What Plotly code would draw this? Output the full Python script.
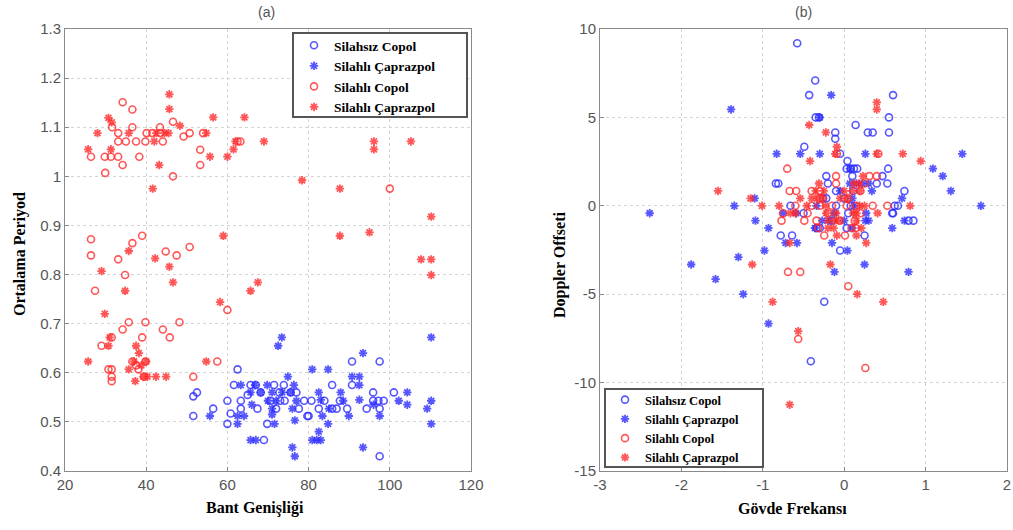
import plotly.graph_objects as go

# ---------------- Panel (a): Bant Genişliği vs Ortalama Periyod ----------------
a_blue_circle_x = [51.6, 52.5, 51.6, 56.5, 60, 60, 60.8, 62.5, 61.6, 63.3, 63.3, 65.7, 67, 65, 67.4, 69, 69.8, 70.6,
                   71.5, 72.8, 73.9, 74.1, 75.6, 77, 77.6, 78.9, 79.7, 80.7, 82.5, 83.9, 85.8, 85.8, 86.9, 87.7, 89.5,
                   90.7, 90.7, 94.3, 95.9, 95.9, 97.5, 97.5, 97.2, 98.5, 101, 97.5, 68.2, 73, 80, 72]
a_blue_circle_y = [0.552, 0.56, 0.512, 0.527, 0.543, 0.496, 0.517, 0.607, 0.575, 0.543, 0.527, 0.575, 0.575, 0.555,
                   0.527, 0.463, 0.496, 0.543, 0.575, 0.56, 0.575, 0.543, 0.56, 0.56, 0.527, 0.543, 0.512, 0.543,
                   0.527, 0.543, 0.575, 0.527, 0.527, 0.543, 0.527, 0.623, 0.575, 0.527, 0.56, 0.543, 0.623, 0.527,
                   0.543, 0.543, 0.56, 0.43, 0.56, 0.543, 0.512, 0.527]

a_blue_star_x = [73.4, 72.5, 93.4, 110.2, 80.9, 84.8, 74.9, 90.7, 92.5, 63.3, 69.8, 76.4, 92.5, 65.7, 68.2, 71, 75.5,
                 82.5, 87.9, 104.3, 66, 70, 72, 77, 83, 92.5, 102.2, 110.2, 71, 76, 85, 96, 104.3, 109.2, 55.7, 62.5,
                 64.1, 71, 83.4, 89.9, 97.5, 62.5, 71.6, 84.8, 110.2, 76.6, 82.5, 65.7, 67, 80.9, 82, 83, 76, 76.6,
                 93.4, 66.8, 73.5, 88.5]
a_blue_star_y = [0.672, 0.655, 0.64, 0.672, 0.607, 0.607, 0.592, 0.592, 0.592, 0.575, 0.575, 0.575, 0.575, 0.56,
                 0.56, 0.56, 0.56, 0.56, 0.56, 0.56, 0.535, 0.543, 0.543, 0.543, 0.545, 0.545, 0.543, 0.543, 0.527,
                 0.527, 0.527, 0.535, 0.535, 0.527, 0.512, 0.512, 0.512, 0.515, 0.512, 0.512, 0.512, 0.496, 0.496,
                 0.496, 0.496, 0.503, 0.48, 0.463, 0.463, 0.463, 0.463, 0.463, 0.448, 0.43, 0.448, 0.575, 0.56, 0.543]

a_red_circle_x = [34.2, 36.6, 31.6, 36.6, 43.4, 46.6, 33.1, 40.1, 41.5, 43.5, 49.2, 50.7, 54, 33.1, 35, 37.5, 39.8,
                  44.1, 62.5, 63.2, 26.4, 29.8, 31.3, 33.1, 38.3, 53.3, 34.2, 53.3, 29.9, 46.6, 100, 26.4, 26.4, 36.6,
                  39, 33.1, 34.8, 27.4, 44.8, 47.5, 50.7, 60, 35.7, 39.8, 48.2, 34.2, 39, 44.1, 45.8, 29, 31.5, 36.6,
                  39.8, 38.1, 30.7, 31.5, 31.5, 31.5, 39.5, 57.5, 51.6, 37.5]
a_red_circle_y = [1.151, 1.136, 1.10, 1.10, 1.10, 1.111, 1.088, 1.088, 1.088, 1.088, 1.081, 1.088, 1.088, 1.071,
                  1.071, 1.071, 1.071, 1.071, 1.071, 1.071, 1.04, 1.04, 1.04, 1.04, 1.04, 1.054, 1.023, 1.023, 1.007,
                  1.0, 0.975, 0.872, 0.839, 0.864, 0.879, 0.831, 0.799, 0.767, 0.847, 0.839, 0.856, 0.728, 0.703,
                  0.703, 0.703, 0.688, 0.672, 0.688, 0.672, 0.655, 0.672, 0.623, 0.623, 0.607, 0.607, 0.607, 0.592,
                  0.583, 0.592, 0.623, 0.592, 0.615]

a_red_star_x = [45.7, 45.7, 30.7, 31.5, 56.5, 64.2, 48.3, 28, 35.7, 42.5, 44.5, 45.5, 54.8, 42, 62, 69, 25.7, 31.3,
                61.5, 55.7, 60, 43.2, 41.6, 78.4, 96.1, 96.1, 105.2, 87.7, 110.2, 87.7, 95, 107.7, 110.2, 110.2, 59,
                35.7, 42.2, 45.7, 46.6, 29, 34.8, 65.7, 67.5, 58.2, 29.8, 30.7, 37.5, 38.2, 25.7, 38.8, 40, 35.7,
                37.3, 39.3, 40.3, 42.4, 44.9, 54.8, 31, 37]
a_red_star_y = [1.167, 1.137, 1.119, 1.11, 1.12, 1.12, 1.103, 1.088, 1.088, 1.088, 1.088, 1.088, 1.088, 1.071, 1.071,
                1.071, 1.055, 1.055, 1.055, 1.04, 1.04, 1.023, 0.975, 0.992, 1.071, 1.055, 1.071, 0.975, 0.918,
                0.879, 0.886, 0.831, 0.831, 0.799, 0.879, 0.848, 0.833, 0.816, 0.784, 0.807, 0.767, 0.767, 0.784,
                0.744, 0.72, 0.655, 0.655, 0.64, 0.623, 0.615, 0.623, 0.607, 0.583, 0.592, 0.592, 0.592, 0.592,
                0.623, 0.672, 0.623]

# ---------------- Panel (b): Gövde Frekansı vs Doppler Offseti ----------------
b_blue_circle_x = [-0.577, -0.356, -0.43, 0.60, -0.31, -0.35, 0.55, 0.55, 0.29, 0.35, 0.14, -0.11, -0.11, -0.49,
                   -0.05, 0.04, 0.03, 0.08, 0.12, 0.16, -0.22, 0.1, 0.47, 0.54, 0.40, 0.53, -0.84, -0.81, -0.2, 0.74,
                   -0.1, 0.11, -0.26, -0.66, -0.1, 0.62, 0.66, 0.59, -0.5, 0.6, 0.79, 0.85, -0.78, -0.64, 0.25, 0.03,
                   -0.05, -0.245, -0.41, -0.34, -0.3, 0.08, -0.22, 0.05, 0.0, -0.15]
b_blue_circle_y = [9.19, 7.09, 6.26, 6.26, 5.0, 5.0, 5.0, 4.15, 4.15, 4.15, 4.57, 4.15, 3.79, 3.34, 2.94, 2.53, 2.1,
                   2.1, 2.1, 2.1, 1.68, 1.68, 1.68, 2.1, 1.26, 1.26, 1.26, 1.26, 1.26, 0.84, 0.84, 0.84, 0.42, 0.0,
                   0.0, 0.0, 0.0, -0.42, -0.42, -0.42, -0.84, -0.84, -1.68, -1.68, -1.68, -1.26, -2.53, -5.43, -8.79,
                   -1.26, -1.26, 0.0, 0.42, -0.42, 0.42, -0.84]

b_blue_star_x = [-1.39, -0.16, -0.3, -0.83, -0.54, -0.30, 0.26, 1.45, 1.09, 1.21, 1.31, 1.68, 0.34, 0.71, -1.35,
                 -2.39, -1.10, -1.09, -0.93, -0.72, -0.58, -0.98, -1.30, -1.88, -1.58, -1.24, -0.93, -0.15, 0.04,
                 0.25, -0.12, 0.79, 0.59, 0.74, 0.26, 0.30, -0.18, 0.10, -0.36, -0.59, -0.75, 0.07, 0.15, 0.22, 0.3,
                 0.07, 0.1, 0.27, -0.34, -0.12, -0.27, 0.0, 0.12, -0.05]
b_blue_star_y = [5.45, 6.26, 5.0, 2.94, 2.94, 2.94, 2.94, 2.94, 2.1, 1.68, 0.84, 0.0, 0.84, 0.42, 0.0, -0.42, 0.42,
                 -0.84, -1.26, -2.1, -2.1, -2.53, -2.9, -3.32, -4.15, -5.0, -6.66, -2.1, -2.53, -3.32, -3.74, -3.74,
                 -1.26, -0.84, -0.84, -0.84, -0.84, -1.26, -1.26, -0.42, -0.42, 1.26, 1.26, 1.26, 1.26, 2.1, 0.42,
                 -0.42, 0.0, -0.42, -0.84, -0.84, 0.0, 0.84]

b_red_circle_x = [-0.70, -0.67, -0.59, -0.77, -0.49, -0.69, -0.54, 0.05, -0.565, 0.26, 0.53, -0.245, 0.01, 0.14,
                  -0.05, -0.1, -0.1, 0.31, 0.40, -0.75, -0.40, -0.30, 0.03, 0.15, -0.34, 0.13, -0.32, 0.09, -0.3,
                  -0.4, -0.3, -0.09, -0.15, 0.2, -0.2, 0.05, 0.2, 0.35, 0.25, -0.6, -0.45, 0.42]
b_red_circle_y = [2.1, 0.84, 0.84, -0.84, -0.84, -3.74, -3.74, -4.55, -7.53, -9.17, 0.0, -1.68, -1.68, -1.26, -0.84,
                  1.68, 1.26, 1.68, 1.68, -0.42, 0.0, 0.0, 0.0, 0.0, -0.84, -0.84, -1.26, -1.26, 0.42, 0.84, 0.84,
                  2.94, 0.0, -0.42, -0.42, 0.42, 0.84, 0.0, 1.26, 0.0, -0.42, 2.94]

b_red_star_x = [0.40, 0.40, -0.43, -0.225, -0.09, -0.11, 0.72, 0.94, 0.40, -0.42, -1.55, -1.15, -1.01, -0.8, 0.81,
                0.41, 0.27, -0.17, -1.13, 0.16, -0.88, 0.48, -0.565, -0.67, -0.09, 0.15, -0.67, -0.31, 0.23, -0.35,
                -0.25, 0.0, 0.1, 0.19, -0.54, -0.4, -0.33, -0.26, -0.05, 0.03, -0.46, -0.23, 0.19, 0.25, -0.66,
                -0.6, -0.22, 0.11, 0.15, -0.2, -0.12, -0.07, 0.15, -0.2, -0.13, 0.21, 0.12, 0.18, -0.1]
b_red_star_y = [5.85, 5.45, 4.57, 4.15, 3.34, 2.94, 2.94, 2.53, 2.94, 2.53, 0.84, 0.42, 0.0, 0.0, 0.0, -0.42, -2.1,
                -3.32, -3.32, -5.0, -5.43, -5.43, -7.09, -11.25, -1.68, -1.68, -2.1, 1.26, 1.68, 0.84, 0.84, 0.84,
                0.84, 0.84, 0.42, 0.42, 0.42, 0.42, 0.42, 0.42, 0.0, 0.0, 0.0, 0.0, -0.42, -0.42, -0.42, -0.42,
                -0.42, -0.84, -0.84, -0.84, -0.84, -1.26, -1.26, -1.26, 1.26, 1.26, -0.42]

series_names = ["Silahsız Copol", "Silahlı Çaprazpol", "Silahlı Copol", "Silahlı Çaprazpol"]
panel_titles = ["(a)", "(b)"]
a_xticks = [20, 40, 60, 80, 100, 120]
a_yticks = [0.4, 0.5, 0.6, 0.7, 0.8, 0.9, 1.0, 1.1, 1.2, 1.3]
a_yticktext = ["0.4", "0.5", "0.6", "0.7", "0.8", "0.9", "1", "1.1", "1.2", "1.3"]
b_xticks = [-3, -2, -1, 0, 1, 2]
b_xticktext = ["-3", "-2", "-1", "0", "1", "2"]
b_yticks = [-15, -10, -5, 0, 5, 10]
b_yticktext = ["-15", "-10", "-5", "0", "5", "10"]

BLUE = "rgba(40,40,255,0.78)"
RED = "rgba(255,40,40,0.78)"


def circle(color):
    return dict(symbol="circle-open", size=7, color=color, line=dict(width=1.6, color=color))


def star(color):
    return dict(symbol="asterisk-open", size=7, color=color, line=dict(width=1.8, color=color))


fig = go.Figure()
panels = [
    ("x", "y", "legend", [(a_blue_circle_x, a_blue_circle_y, circle(BLUE)),
                          (a_blue_star_x, a_blue_star_y, star(BLUE)),
                          (a_red_circle_x, a_red_circle_y, circle(RED)),
                          (a_red_star_x, a_red_star_y, star(RED))]),
    ("x2", "y2", "legend2", [(b_blue_circle_x, b_blue_circle_y, circle(BLUE)),
                             (b_blue_star_x, b_blue_star_y, star(BLUE)),
                             (b_red_circle_x, b_red_circle_y, circle(RED)),
                             (b_red_star_x, b_red_star_y, star(RED))]),
]
for xa, ya, leg, traces in panels:
    for name, (xs, ys, mk) in zip(series_names, traces):
        fig.add_trace(go.Scatter(x=xs, y=ys, mode="markers", name=name, marker=mk,
                                 xaxis=xa, yaxis=ya, legend=leg))

W, H = 1013, 530


def px(v):
    return v / W


def py(v):
    return 1 - v / H


axis_common = dict(showgrid=True, gridcolor="#d4d4d4", griddash="dot", gridwidth=1,
                   showline=True, linecolor="#8a8a8a", linewidth=1, mirror=True,
                   ticks="inside", ticklen=4, tickcolor="#8a8a8a", automargin=False,
                   ticklabeloverflow="allow",
                   tickfont=dict(family="Liberation Sans, Arial", size=15, color="#555555"),
                   zeroline=False)

legend_font_a = dict(family="Liberation Serif, Times New Roman", size=13.5, color="black", weight="bold")
legend_font_b = dict(family="Liberation Serif, Times New Roman", size=12.5, color="black", weight="bold")

fig.update_layout(
    width=W, height=H,
    margin=dict(l=0, r=0, t=0, b=0, autoexpand=False),
    paper_bgcolor="white", plot_bgcolor="white",
    xaxis=dict(domain=[px(65), px(471)], range=[20, 120], tickvals=a_xticks, anchor="y", **axis_common),
    yaxis=dict(domain=[py(471), py(29)], range=[0.4, 1.3], tickvals=a_yticks,
               ticktext=a_yticktext, anchor="x", **axis_common),
    xaxis2=dict(domain=[px(600), px(1007)], range=[-3, 2], tickvals=b_xticks, ticktext=b_xticktext,
                anchor="y2", **axis_common),
    yaxis2=dict(domain=[py(471), py(29)], range=[-15, 10], tickvals=b_yticks,
                ticktext=b_yticktext, anchor="x2", **axis_common),
    legend=dict(x=px(294), y=py(30), xanchor="left", yanchor="top",
                bgcolor="rgba(0,0,0,0)", borderwidth=0,
                font=legend_font_a, tracegroupgap=0, itemwidth=30),
    legend2=dict(x=px(605), y=py(385), xanchor="left", yanchor="top",
                 bgcolor="rgba(0,0,0,0)", borderwidth=0,
                 font=legend_font_b, tracegroupgap=0, itemwidth=30),
    showlegend=True,
)

# legend frames
for (x0, y0, x1, y1) in [(293, 33, 467, 117), (605, 389, 763, 467)]:
    fig.add_shape(type="rect", xref="paper", yref="paper", x0=px(x0), x1=px(x1), y0=py(y1), y1=py(y0),
                  fillcolor="white", line=dict(color="#555555", width=2), layer="above")

title_font = dict(family="Liberation Sans, Arial", size=14, color="#555555")
label_font = dict(family="Liberation Serif, Times New Roman", size=16, color="black", weight="bold")
annotations = [
    dict(text=panel_titles[0], x=px(266), y=py(12), font=title_font),
    dict(text=panel_titles[1], x=px(803), y=py(12), font=title_font),
    dict(text="Bant Genişliği", x=px(255), y=py(508), font=label_font),
    dict(text="Gövde Frekansı", x=px(792), y=py(508), font=label_font),
    dict(text="Ortalama Periyod", x=px(20), y=py(254), textangle=-90, font=label_font),
    dict(text="Doppler Offseti", x=px(560), y=py(265), textangle=-90, font=label_font),
]
for a in annotations:
    fig.add_annotation(xref="paper", yref="paper", showarrow=False, xanchor="center", yanchor="middle", **a)

fig.write_html("out.html", config={"displayModeBar": False},
               post_script="document.body.style.margin='0';document.body.style.overflow='hidden';")
